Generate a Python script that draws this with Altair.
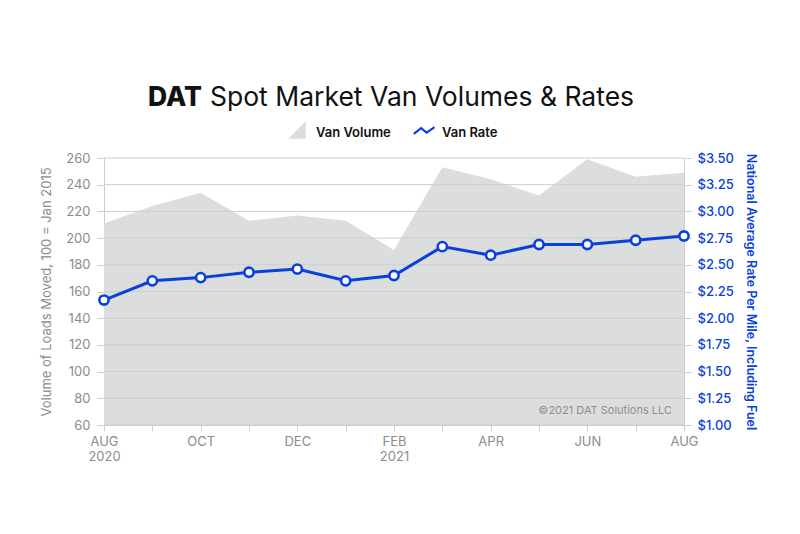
import altair as alt
import pandas as pd

months = ["2020-08", "2020-09", "2020-10", "2020-11", "2020-12", "2021-01", "2021-02",
          "2021-03", "2021-04", "2021-05", "2021-06", "2021-07", "2021-08"]
month_labels = [["AUG", "2020"], "", "OCT", "", "DEC", "", ["FEB", "2021"], "", "APR", "", "JUN", "", "AUG"]
van_volume = [211, 224, 234, 213, 217, 213, 191, 253, 244, 232, 259, 246, 249]
van_rate = [2.17, 2.35, 2.38, 2.43, 2.46, 2.35, 2.40, 2.67, 2.59, 2.69, 2.69, 2.73, 2.77]
volume_ticks = [60, 80, 100, 120, 140, 160, 180, 200, 220, 240, 260]
rate_ticks = [1.00, 1.25, 1.50, 1.75, 2.00, 2.25, 2.50, 2.75, 3.00, 3.25, 3.50]
title_bold = "DAT"
title_rest = "Spot Market Van Volumes & Rates"
legend_labels = ["Van Volume", "Van Rate"]
left_title = "Volume of Loads Moved, 100 = Jan 2015"
right_title = "National Average Rate Per Mile, Including Fuel"
copyright_text = "\u00a92021 DAT Solutions LLC"

FONT = "Inter"
BLUE = "#0a41dc"
GREY_AREA = "#dcdddd"
GRID = "#cdcdcd"
LABEL_GREY = "#8c8c8c"

df = pd.DataFrame({"month": months, "volume": van_volume, "rate": van_rate})


def js(v):
    if isinstance(v, list):
        return "[" + ",".join("'" + s + "'" for s in v) + "]"
    return "'" + v + "'"


label_expr = "''"
for m, lab in reversed(list(zip(months, month_labels))):
    if lab != "":
        label_expr = f"datum.value == '{m}' ? {js(lab)} : ({label_expr})"

x_axis = alt.Axis(
    title=None,
    labelExpr=label_expr,
    labelAngle=0,
    labelColor=LABEL_GREY,
    labelFont=FONT,
    labelFontSize=13,
    labelLineHeight=15,
    labelPadding=4,
    tickColor=GRID,
    tickSize=6,
    domainColor=GRID,
    grid=False,
    labelOverlap=False,
)
x_enc = alt.X("month:O", sort=months, scale=alt.Scale(type="point", padding=0), axis=x_axis)

vol_scale = alt.Scale(domain=[60, 260], nice=False, zero=False)
rate_scale = alt.Scale(domain=[1.0, 3.5], nice=False, zero=False)

vol_axis = alt.Axis(
    values=volume_ticks,
    title=left_title,
    titleColor=LABEL_GREY,
    titleFont=FONT,
    titleFontSize=13,
    titleFontWeight="normal",
    titlePadding=12,
    labelColor=LABEL_GREY,
    labelFont=FONT,
    labelFontSize=13,
    labelPadding=7,
    labelOverlap=False,
    tickColor=GRID,
    tickSize=7,
    domainColor=GRID,
    grid=False,
)
rate_axis = alt.Axis(
    orient="right",
    values=rate_ticks,
    format="$.2f",
    title=right_title,
    titleColor=BLUE,
    titleFont=FONT,
    titleFontSize=12.5,
    titleFontWeight=600,
    titlePadding=10,
    labelColor=BLUE,
    labelFont=FONT,
    labelFontSize=13,
    labelFontWeight=500,
    labelPadding=6,
    labelOverlap=False,
    tickColor=GRID,
    tickSize=7,
    domainColor=GRID,
    grid=False,
)

area = alt.Chart(df).mark_area(color=GREY_AREA, opacity=1, clip=True).encode(
    x=x_enc,
    y=alt.Y("volume:Q", scale=vol_scale, axis=vol_axis),
)

grid_df = pd.DataFrame({"volume": volume_ticks})
grid = alt.Chart(grid_df).mark_rule(color=GRID, strokeWidth=1).encode(
    y=alt.Y("volume:Q", scale=vol_scale, axis=vol_axis)
)

copyright_mark = alt.Chart(pd.DataFrame({"t": [copyright_text]})).mark_text(
    align="right", baseline="alphabetic", font=FONT, fontSize=11, color="#8f8f8f"
).encode(text="t:N", x=alt.value(568), y=alt.value(256))

left = alt.layer(area, grid, copyright_mark)

line = alt.Chart(df).mark_line(color=BLUE, strokeWidth=3).encode(
    x=x_enc,
    y=alt.Y("rate:Q", scale=rate_scale, axis=rate_axis),
)
points = alt.Chart(df).mark_point(
    shape="circle", filled=True, fill="white", stroke=BLUE, strokeWidth=2.6, size=85, opacity=1
).encode(x=x_enc, y=alt.Y("rate:Q", scale=rate_scale, axis=rate_axis))

right = alt.layer(line, points)

# Title (bold "DAT" + regular rest)
title_bold_mark = alt.Chart(pd.DataFrame({"t": [title_bold]})).mark_text(
    align="right", baseline="alphabetic", font=FONT, fontSize=26.5, fontWeight=800, color="#111111"
).encode(text="t:N", x=alt.value(98), y=alt.value(-52))
title_rest_mark = alt.Chart(pd.DataFrame({"t": [title_rest]})).mark_text(
    align="left", baseline="alphabetic", font=FONT, fontSize=26.5, fontWeight="normal", color="#111111"
).encode(text="t:N", x=alt.value(106), y=alt.value(-52))

# Legend
tri = alt.Chart(pd.DataFrame({"k": [legend_labels[0]]})).mark_point(
    shape="M1,-1L1,1L-1,1Z", filled=True, color=GREY_AREA, size=300, opacity=1
).encode(x=alt.value(193), y=alt.value(-28))
leg_text1 = alt.Chart(pd.DataFrame({"t": [legend_labels[0]]})).mark_text(
    align="left", baseline="alphabetic", font=FONT, fontSize=13, fontWeight=600, color="#111111"
).encode(text="t:N", x=alt.value(212), y=alt.value(-21))
zig = alt.Chart(pd.DataFrame({"k": [legend_labels[1]]})).mark_point(
    shape="M-1,0.25L-0.35,-0.25L0.15,0.15L0.85,-0.35", filled=False, color=BLUE,
    strokeWidth=2.2, size=500, opacity=1
).encode(x=alt.value(321), y=alt.value(-27))
leg_text2 = alt.Chart(pd.DataFrame({"t": [legend_labels[1]]})).mark_text(
    align="left", baseline="alphabetic", font=FONT, fontSize=13, fontWeight=600, color="#111111"
).encode(text="t:N", x=alt.value(338), y=alt.value(-21))

chart = (
    alt.layer(left, right, title_bold_mark, title_rest_mark, tri, leg_text1, zig, leg_text2)
    .resolve_scale(y="independent")
    .properties(
        width=580,
        height=267,
        autosize=alt.AutoSizeParams(type="none"),
        padding={"left": 104, "top": 158, "right": 116, "bottom": 109},
        background="white",
    )
    .configure_view(stroke=None)
)

chart.save("out.html", embed_options={"renderer": "svg", "actions": False})
